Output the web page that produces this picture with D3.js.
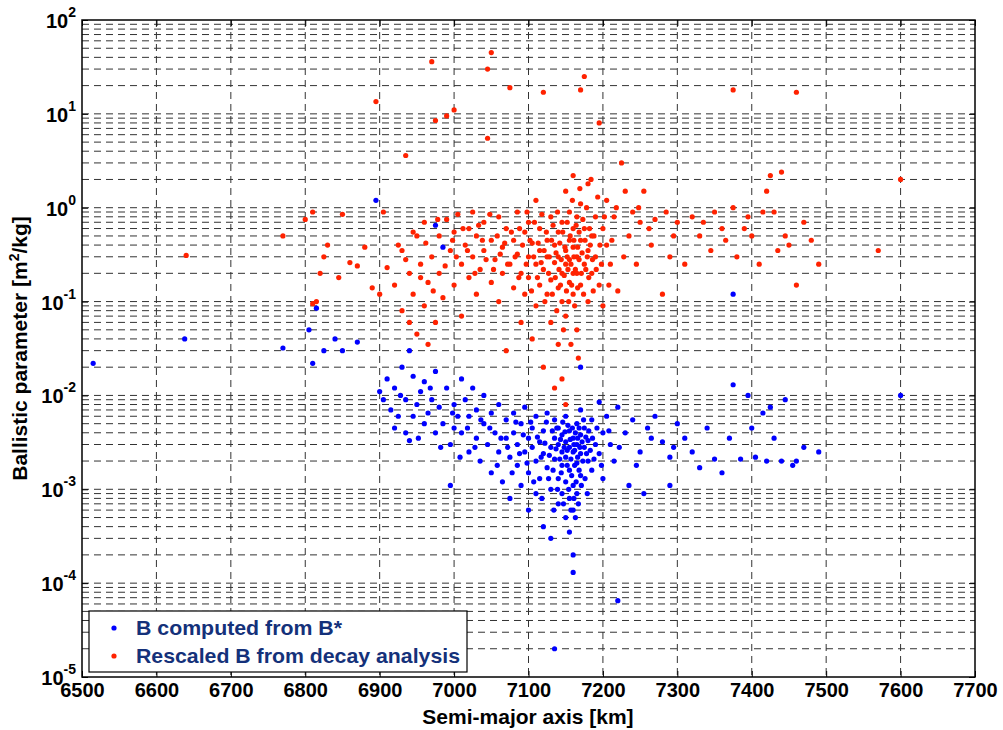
<!DOCTYPE html>
<html><head><meta charset="utf-8">
<script src="https://cdn.jsdelivr.net/npm/d3@7"></script>
<style>
body{margin:0;background:#fff;}
text{font-family:"Liberation Sans",Arial,sans-serif;font-weight:bold;}
</style></head>
<body><svg id="chart" width="1003" height="730"></svg>
<script>
const xTicks = [6500,6600,6700,6800,6900,7000,7100,7200,7300,7400,7500,7600,7700];
const yExps = [-5,-4,-3,-2,-1,0,1,2];
const legendLabels = ["B computed from B*", "Rescaled B from decay analysis"];

const blueData = [
[6515,0.022],[6638,0.04],[6770,0.032],[6805,0.05],[6815,0.085],[6810,0.022],[6825,0.03],[6840,0.04],[6850,0.03],[6870,0.037],[6895,1.2],[6900,0.011],[6940,0.03],[6975,0.65],[6985,0.38],[6995,0.0011],[7000,0.0045],[7170,0.02],[7220,6.5e-5],[7135,2e-5],[7375,0.12],[7600,0.01],[7490,0.0025],[7470,0.0028],[7460,0.002],
[6905,0.009],[6910,0.015],[6915,0.007],[6920,0.012],[6925,0.006],[6930,0.02],[6935,0.004],[6935,0.009],[6940,0.0033],[6945,0.016],[6950,0.008],[6955,0.011],[6960,0.005],[6960,0.014],[6965,0.0065],[6970,0.009],[6975,0.004],[6975,0.018],[6980,0.0075],[6985,0.005],[6990,0.012],[6995,0.003],[7000,0.008],[7005,0.006],[7010,0.015],[7010,0.004],[7015,0.009],[7020,0.0025],[7020,0.006],[7025,0.012],[7030,0.0035],[7030,0.007],[7035,0.002],[7040,0.005],[7040,0.01],[7045,0.003],[7050,0.0065],[7050,0.0015],[7055,0.004],[7060,0.0025],[7060,0.008],[7065,0.0012],[7070,0.0035],[7070,0.0055],[7075,0.0008],[7075,0.0022],[7080,0.004],[7080,0.0065],[7085,0.0018],[7085,0.003],[7090,0.0011],[7090,0.005],[7095,0.0025],[7095,0.0075],[7100,0.0015],[7100,0.0035],[7100,0.0006],[7105,0.0028],[7105,0.0045],[7110,0.0009],[7110,0.002],[7110,0.006],[7115,0.0032],[7115,0.0013],[7120,0.0004],[7120,0.0024],[7120,0.0042],[7125,0.0017],[7125,0.0065],[7130,0.0028],[7130,0.001],[7130,0.0003],[7135,0.0035],[7135,0.0021],[7135,0.0055],[7140,0.0013],[7140,0.0007],[7140,0.003],[7140,0.0045],[7145,0.0025],[7145,0.0018],[7145,0.0038],[7145,0.0009],[7150,0.0032],[7150,0.0005],[7150,0.0022],[7150,0.006],[7150,0.0012],[7155,0.0028],[7155,0.0042],[7155,0.0008],[7155,0.0016],[7155,0.00035],[7160,0.0035],[7160,0.0025],[7160,0.0006],[7160,0.0011],[7160,0.00013],[7160,0.0002],[7165,0.003],[7165,0.0019],[7165,0.005],[7165,0.0009],[7170,0.0038],[7170,0.0014],[7170,0.0024],[7170,0.007],[7175,0.0028],[7175,0.0045],[7180,0.002],[7180,0.0033],[7185,0.0055],[7185,0.0016],[7190,0.003],[7195,0.0024],[7195,0.0085],[7200,0.004],[7200,0.0013],[7205,0.006],[7210,0.003],[7215,0.002],[7220,0.0075],[7230,0.004],[7235,0.0011],[7240,0.0055],[7250,0.0025],[7255,0.0009],[7260,0.0045],[7270,0.006],[7280,0.0032],[7290,0.0011],[7290,0.0022],[7300,0.005],[7310,0.0035],[7320,0.0025],[7330,0.0017],[7340,0.0045],[7350,0.0021],[7360,0.0015],[7370,0.0035],[7375,0.013],[7385,0.0021],[7395,0.01],[7400,0.0045],[7405,0.0022],[7415,0.0065],[7420,0.002],[7425,0.0075],[7430,0.0035],[7440,0.002],[7445,0.009],[7455,0.0018],
[6920,0.0045],[6928,0.01],[6945,0.006],[6952,0.0035],[6968,0.012],[6982,0.0028],[6998,0.0065],[7008,0.0022],[7018,0.0045],[7028,0.0028],[7036,0.0055],[7048,0.0045],[7058,0.0018],[7063,0.0035],[7072,0.0028],[7078,0.0015],[7083,0.0052],[7088,0.0024],[7093,0.0038],[7098,0.0019],[7103,0.0052],[7107,0.0012],[7112,0.0036],[7117,0.0022],[7118,0.0008],[7122,0.0031],[7124,0.0052],[7127,0.0013],[7128,0.0023],[7132,0.0042],[7133,0.0016],[7134,0.0006],[7137,0.0027],[7138,0.0045],[7139,0.001],[7142,0.0021],[7143,0.0034],[7144,0.0015],[7146,0.0052],[7147,0.0007],[7148,0.0028],[7149,0.0041],[7152,0.0018],[7152,0.0026],[7153,0.0048],[7154,0.001],[7156,0.0034],[7157,0.0021],[7157,0.0006],[7158,0.0014],[7159,0.0045],[7161,0.003],[7161,0.0008],[7162,0.0018],[7162,0.0026],[7163,0.004],[7163,0.0005],[7164,0.0012],[7166,0.0035],[7166,0.0022],[7167,0.0007],[7168,0.0045],[7168,0.0016],[7169,0.0028],[7171,0.0011],[7172,0.0032],[7173,0.002],[7174,0.0055],[7176,0.0013],[7177,0.0036],[7178,0.0024],[7179,0.0009],[7181,0.0042],[7183,0.0026],[7186,0.0035],[7188,0.0021],[7192,0.0045],[7198,0.0018],[7208,0.0042],[7222,0.0028],[7245,0.0018],[7265,0.0035],[7295,0.0028]
];

const redData = [
[6640,0.31],[6770,0.5],[6800,0.75],[6810,0.9],[6810,0.095],[6815,0.1],[6820,0.2],[6825,0.3],[6830,0.4],[6845,0.18],[6850,0.85],[6860,0.26],[6870,0.24],[6880,0.38],[6890,0.14],[6895,13.5],[6900,0.12],[6905,0.9],[6910,0.23],
[6920,0.15],[6925,0.4],[6930,0.08],[6930,0.35],[6935,3.6],[6940,0.2],[6940,0.06],[6945,0.12],[6950,0.5],[6950,0.045],[6955,0.25],[6960,0.09],[6960,0.7],[6965,0.16],[6965,0.035],[6970,0.3],[6970,36],[6975,0.06],[6975,8.5],[6980,0.2],[6980,0.5],[6985,0.11],[6990,9.5],[6990,0.75],[6995,0.35],[7000,11],[7000,0.15],[7000,0.55],[7005,0.85],[7010,0.25],[7010,0.07],[7015,0.4],[7020,0.6],[7020,0.18],[7025,0.9],[7025,0.3],[7030,0.12],[7030,0.5],[7035,0.22],[7040,0.7],[7040,0.35],[7045,30],[7045,5.5],[7050,45],[7050,0.16],[7050,0.45],[7055,0.28],[7060,0.8],[7060,0.1],[7065,0.38],[7065,0.2],[7070,0.6],[7070,0.03],[7075,19],[7075,0.25],[7080,0.45],[7080,0.14],[7085,0.9],[7085,0.32],[7090,0.2],[7090,0.06],[7095,0.55],[7095,0.12],[7100,0.3],[7100,0.7],[7100,0.18],[7105,0.04],[7105,0.42],[7110,0.25],[7110,0.09],[7110,1.2],[7115,0.35],[7115,0.15],[7115,0.6],[7120,17],[7120,0.22],[7120,0.02],[7125,0.45],[7125,0.12],[7125,0.3],[7130,0.8],[7130,0.17],[7130,0.06],[7135,0.26],[7135,0.4],[7135,0.012],[7140,0.14],[7140,0.55],[7140,0.3],[7140,0.035],[7145,0.2],[7145,0.7],[7145,0.1],[7145,0.015],[7150,0.35],[7150,0.25],[7150,1.5],[7150,0.07],[7150,0.008],[7155,0.45],[7155,0.16],[7155,0.9],[7155,0.28],[7160,0.2],[7160,0.6],[7160,0.12],[7160,0.38],[7160,2.2],[7165,0.3],[7165,0.8],[7165,0.05],[7165,0.2],[7170,18],[7170,0.45],[7170,1.1],[7170,0.15],[7175,25],[7175,0.25],[7175,0.6],[7180,0.35],[7180,1.8],[7180,0.1],[7185,0.5],[7185,0.2],[7190,0.8],[7190,0.3],[7195,8],[7195,0.15],[7200,0.6],[7200,0.09],[7205,1.2],[7205,0.4],[7210,0.25],[7215,0.8],[7220,0.13],[7225,3],[7230,1.5],[7235,0.5],[7240,0.9],[7245,0.25],[7250,0.7],[7255,1.5],[7265,0.4],[7270,0.75],[7280,0.12],[7285,0.9],[7290,0.3],[7300,0.7],[7310,0.25],[7320,0.8],[7330,0.5],[7345,0.35],[7350,0.9],[7360,0.6],[7375,18],[7375,1.0],[7380,0.3],[7395,0.8],[7400,0.5],[7410,0.25],[7420,1.5],[7425,2.2],[7430,0.9],[7440,2.4],[7445,0.5],[7450,0.4],[7460,17],[7460,0.15],[7470,0.7],[7480,0.45],[7490,0.25],[7570,0.35],[7600,2],
[6935,0.28],[6945,0.55],[6955,0.18],[6962,0.42],[6972,0.13],[6978,0.75],[6988,0.24],[6998,0.45],[7003,0.3],[7012,0.6],[7018,0.35],[7028,0.2],[7033,0.65],[7038,0.45],[7043,0.28],[7048,0.85],[7053,0.22],[7058,0.5],[7062,0.32],[7068,0.42],[7072,0.25],[7077,0.55],[7082,0.3],[7087,0.18],[7088,0.6],[7092,0.4],[7097,0.25],[7098,0.9],[7102,0.45],[7104,0.13],[7107,0.3],[7108,0.7],[7112,0.18],[7113,0.42],[7117,0.26],[7118,0.85],[7121,0.35],[7122,0.1],[7124,0.55],[7127,0.2],[7128,0.3],[7131,0.45],[7132,0.12],[7133,0.65],[7136,0.18],[7137,0.33],[7138,0.08],[7139,0.9],[7141,0.22],[7142,0.42],[7143,0.15],[7144,0.28],[7146,0.55],[7147,0.05],[7148,0.19],[7149,0.38],[7151,0.13],[7152,0.3],[7152,0.7],[7153,0.22],[7154,0.1],[7156,0.5],[7157,0.035],[7157,0.25],[7158,0.15],[7159,1.2],[7161,0.3],[7161,0.45],[7162,0.09],[7163,0.22],[7164,0.65],[7166,0.14],[7166,0.38],[7167,0.025],[7168,0.28],[7168,0.55],[7169,1.6],[7171,0.2],[7172,0.33],[7173,0.75],[7174,0.12],[7176,0.45],[7177,0.22],[7178,1.0],[7179,0.3],[7181,0.18],[7182,0.6],[7183,0.4],[7184,2.0],[7186,0.28],[7187,0.13],[7188,0.5],[7191,0.22],[7193,1.3],[7196,0.4],[7198,0.25],[7202,0.8],[7208,0.15],[7212,0.45],[7218,1.0],[7228,0.3],[7248,1.0],[7262,0.6],[7295,0.5],[7335,0.7],[7365,0.45],[7390,0.6],[7415,0.9],[7435,0.35]
];

const L = 82, T = 20, R = 975, B = 677;
const svg = d3.select('#chart');
const x = d3.scaleLinear().domain([6500, 7700]).range([L, R]);
const y = d3.scaleLog().domain([1e-5, 1e2]).range([B, T]);

// minor + major log values
const yGrid = [];
yExps.slice(0, -1).forEach(e => { for (let m = 1; m <= 9; m++) yGrid.push(m * Math.pow(10, e)); });
yGrid.push(100);

const grid = svg.append('g');
grid.selectAll('line.h').data(yGrid.filter(v => v > 1e-5 && v < 100)).enter().append('line')
	.attr('x1', L).attr('x2', R).attr('y1', d => y(d)).attr('y2', d => y(d))
	.attr('stroke', '#333').attr('stroke-width', 1).attr('stroke-dasharray', '7,5');
grid.selectAll('line.v').data(xTicks.slice(1, -1)).enter().append('line')
	.attr('x1', d => x(d)).attr('x2', d => x(d)).attr('y1', T).attr('y2', B)
	.attr('stroke', '#333').attr('stroke-width', 1).attr('stroke-dasharray', '7,5');

// axes
const xAxis = d3.axisBottom(x).tickValues(xTicks).tickSize(-6).tickPadding(6).tickFormat(d3.format('d'));
const gx = svg.append('g').attr('transform', `translate(0,${B})`).call(xAxis);
gx.selectAll('text').attr('font-size', 20).attr('fill', '#000');
const yAxis = d3.axisLeft(y).tickValues(yExps.map(e => Math.pow(10, e))).tickSize(-6).tickFormat('');
svg.append('g').attr('transform', `translate(${L},0)`).call(yAxis);
svg.append('g').attr('transform', `translate(${R},0)`).call(d3.axisRight(y).tickValues(yExps.map(e => Math.pow(10, e))).tickSize(-6).tickFormat(''));
svg.append('g').attr('transform', `translate(0,${T})`).call(d3.axisTop(x).tickValues(xTicks).tickSize(-6).tickFormat(''));
svg.selectAll('.domain').remove();
svg.selectAll('.tick line').attr('stroke', '#000');
svg.append('rect').attr('x', L).attr('y', T).attr('width', R - L).attr('height', B - T)
	.attr('fill', 'none').attr('stroke', '#000').attr('stroke-width', 1.5);

// y labels with superscripts
yExps.forEach(e => {
	const t = svg.append('text').attr('x', L - 6).attr('y', y(Math.pow(10, e)) + 8)
		.attr('text-anchor', 'end').attr('font-size', 20);
	t.append('tspan').text('10');
	t.append('tspan').attr('dy', -11).attr('font-size', 14).text(e);
});

// points
svg.append('g').selectAll('circle').data(blueData).enter().append('circle')
	.attr('cx', d => x(d[0])).attr('cy', d => y(d[1])).attr('r', 2.6).attr('fill', '#0000ff');
svg.append('g').selectAll('circle').data(redData).enter().append('circle')
	.attr('cx', d => x(d[0])).attr('cy', d => y(d[1])).attr('r', 2.6).attr('fill', '#ff2200');

// legend
const lg = svg.append('g');
lg.append('rect').attr('x', 89).attr('y', 611).attr('width', 378).attr('height', 61)
	.attr('fill', '#fff').attr('stroke', '#000').attr('stroke-width', 1.2);
[['#0000ff', legendLabels[0]], ['#ff2200', legendLabels[1]]].forEach((d, i) => {
	const cy = 628 + i * 28;
	lg.append('circle').attr('cx', 114).attr('cy', cy).attr('r', 2.6).attr('fill', d[0]);
	lg.append('text').attr('x', 136).attr('y', cy + 7).attr('font-size', 21).attr('fill', '#14317a')
		.attr('textLength', 324).attr('lengthAdjust', 'spacingAndGlyphs')
		.attr('textLength', i === 0 ? 206 : 324).text(d[1]);
});

// axis titles
svg.append('text').attr('x', 528).attr('y', 724).attr('text-anchor', 'middle')
	.attr('font-size', 21).text('Semi-major axis [km]');
const yt = svg.append('text').attr('transform', `translate(27,${(T + B) / 2}) rotate(-90)`)
	.attr('text-anchor', 'middle').attr('font-size', 21);
yt.append('tspan').text('Ballistic parameter [m');
yt.append('tspan').attr('dy', -8).attr('font-size', 14).text('2');
yt.append('tspan').attr('dy', 8).text('/kg]');
</script></body></html>
